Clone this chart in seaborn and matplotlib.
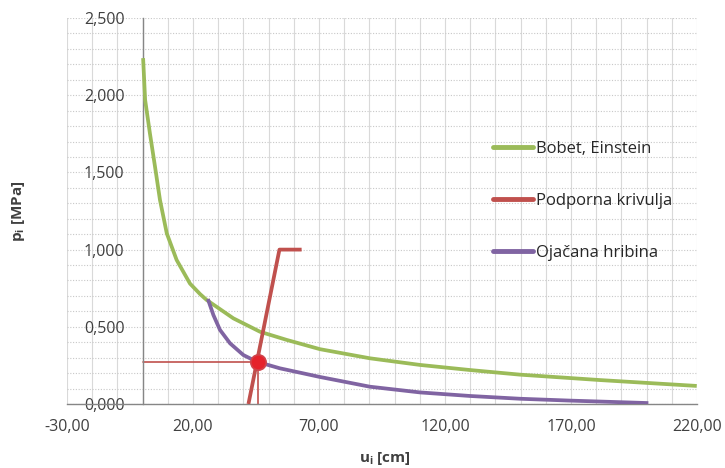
import matplotlib
matplotlib.use("Agg")
import matplotlib.pyplot as plt
import seaborn as sns
import pandas as pd
from matplotlib.ticker import MultipleLocator, FuncFormatter
from matplotlib.lines import Line2D

# ---- data ----
series_names = ["Bobet, Einstein", "Podporna krivulja", "Ojačana hribina"]

bobet_u = [0.2, 1.0, 2.9, 4.9, 6.9, 9.6, 13.5, 18.8, 22.8, 25.4, 36.0, 46.6, 57.2, 70.4,
           90.2, 110.1, 129.9, 149.8, 181.5, 219.9]
bobet_p = [2.24, 1.97, 1.753, 1.54, 1.321, 1.105, 0.933, 0.78, 0.712, 0.674, 0.555, 0.468, 0.415, 0.355,
           0.296, 0.253, 0.22, 0.19, 0.155, 0.117]

podpora_u = [42.0, 54.3, 63.1]
podpora_p = [0.0, 1.0, 1.0]

ojacana_u = [25.9, 28.1, 30.7, 34.7, 40.0, 45.3, 54.5, 70.4, 90.2, 110.1, 129.9, 149.8, 169.6, 200.7]
ojacana_p = [0.68, 0.576, 0.48, 0.393, 0.317, 0.274, 0.231, 0.175, 0.112, 0.075, 0.052, 0.034, 0.022, 0.006]

# equilibrium point and its guide lines
eq_u = [45.9]
eq_p = [0.274]
guide_h_u = [0.0, 45.9]
guide_h_p = [0.274, 0.274]
guide_v_u = [45.9, 45.9]
guide_v_p = [0.0, 0.274]

x_ticks = [-30, 20, 70, 120, 170, 220]
y_ticks = [0.0, 0.5, 1.0, 1.5, 2.0, 2.5]

colors = {"Bobet, Einstein": "#9BBB59", "Podporna krivulja": "#C0504D", "Ojačana hribina": "#8064A2"}

# ---- style ----
sns.set_style("white")
plt.rcParams["font.family"] = ["Open Sans", "DejaVu Sans"]
plt.rcParams["mathtext.fontset"] = "custom"
plt.rcParams["mathtext.rm"] = "Open Sans"
plt.rcParams["mathtext.it"] = "Open Sans:italic"
plt.rcParams["mathtext.bf"] = "Open Sans:bold"

df = pd.concat([
    pd.DataFrame({"u": bobet_u, "p": bobet_p, "series": series_names[0]}),
    pd.DataFrame({"u": podpora_u, "p": podpora_p, "series": series_names[1]}),
    pd.DataFrame({"u": ojacana_u, "p": ojacana_p, "series": series_names[2]}),
], ignore_index=True)

fig = plt.figure(figsize=(7.25, 4.68), dpi=100)
ax = fig.add_axes([67 / 725, 1 - 404 / 468, 630 / 725, 386 / 468])

for name in [series_names[0], series_names[2], series_names[1]]:
    sub = df[df["series"] == name]
    sns.lineplot(data=sub, x="u", y="p", sort=False, estimator=None, color=colors[name],
                 linewidth=2.7, ax=ax, legend=False, zorder=3,
                 solid_capstyle="butt", solid_joinstyle="round")

ax.plot(guide_h_u, guide_h_p, color="#C0504D", linewidth=1.2, zorder=2.5)
ax.plot(guide_v_u, guide_v_p, color="#C0504D", linewidth=1.2, zorder=2.5)
ax.plot(eq_u, eq_p, marker="o", markersize=11, markerfacecolor="#E5222B",
        markeredgecolor="#D0434A", markeredgewidth=1.2, linestyle="none", zorder=5)

ax.set_xlim(-30, 220)
ax.set_ylim(0, 2.5)

ax.xaxis.set_minor_locator(MultipleLocator(10))
ax.yaxis.set_minor_locator(MultipleLocator(0.1))
ax.set_xticks(x_ticks)
ax.set_yticks(y_ticks)
ax.xaxis.set_major_formatter(FuncFormatter(lambda v, _: f"{v:.2f}".replace(".", ",")))
ax.yaxis.set_major_formatter(FuncFormatter(lambda v, _: f"{v:.3f}".replace(".", ",")))

# grid: vertical solid light grey, horizontal dotted grey
ax.xaxis.grid(True, which="both", color="#D9D9D9", linewidth=0.8, linestyle="-")
ax.yaxis.grid(True, which="both", color="#C8C8C8", linewidth=0.8, linestyle=(0, (1, 1.5)))
ax.set_axisbelow(True)

for s in ["top", "right"]:
    ax.spines[s].set_visible(False)
ax.spines["left"].set_position(("data", 0))
for s in ["left", "bottom"]:
    ax.spines[s].set_color("#868686")
    ax.spines[s].set_linewidth(1.0)

ax.tick_params(axis="both", which="major", direction="inout", length=6, width=1.0,
               color="#868686", labelsize=11.5, labelcolor="#404040")
ax.tick_params(axis="both", which="minor", direction="in", length=3, width=0.8, color="#868686")
ax.tick_params(axis="y", which="major", pad=10)
ax.tick_params(axis="x", which="major", pad=8)

ax.set_xlabel(r"$\mathbf{u_i}$ [cm]", fontsize=11, fontweight="bold", color="#404040")
ax.set_ylabel(r"$\mathbf{p_i}$ [MPa]", fontsize=11, fontweight="bold", color="#404040")
ax.xaxis.set_label_coords(0.505, -0.118)
ax.yaxis.set_label_coords(-0.063, 0.5)

handles = [Line2D([0], [0], color=colors[n], linewidth=3.5) for n in series_names]
fig.legend(handles, series_names, loc="center left", bbox_to_anchor=(493 / 725, 1 - 201 / 468),
           frameon=False, fontsize=12, handlelength=2.4, handletextpad=0.15,
           labelspacing=2.15, borderpad=0, borderaxespad=0, labelcolor="#262626")

fig.savefig("out.png", dpi=100)
